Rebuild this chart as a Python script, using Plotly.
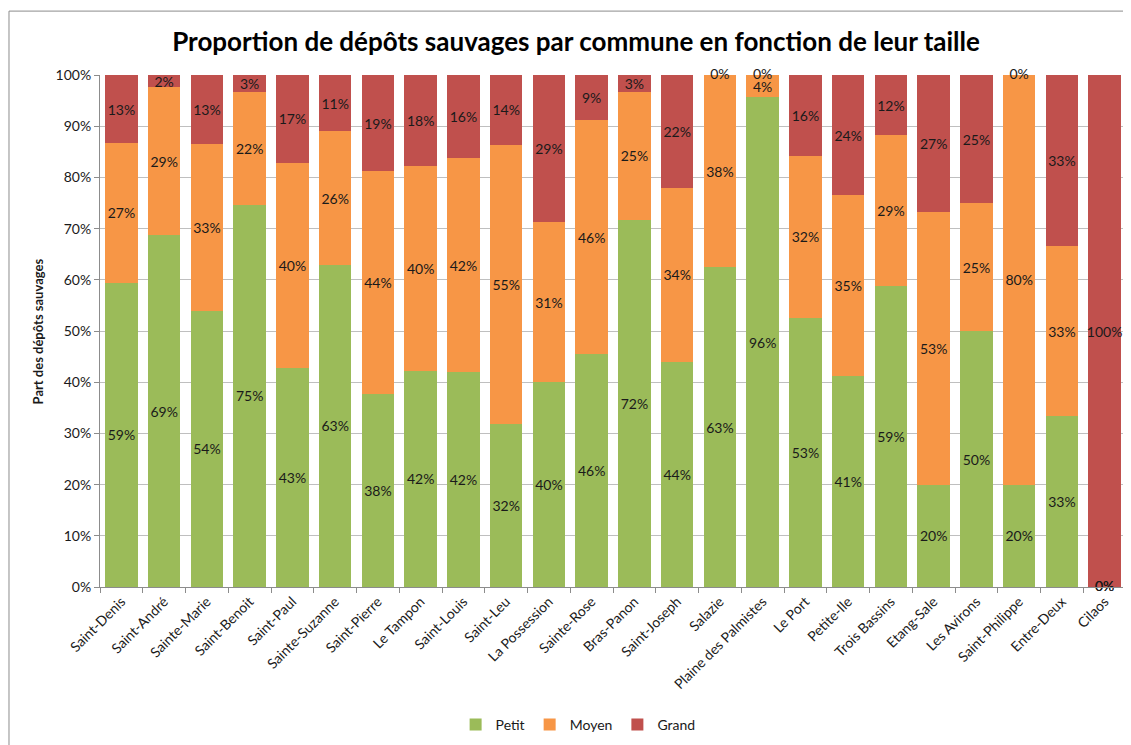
import plotly.graph_objects as go

communes = ["Saint-Denis", "Saint-André", "Sainte-Marie", "Saint-Benoit", "Saint-Paul",
            "Sainte-Suzanne", "Saint-Pierre", "Le Tampon", "Saint-Louis", "Saint-Leu",
            "La Possession", "Sainte-Rose", "Bras-Panon", "Saint-Joseph", "Salazie",
            "Plaine des Palmistes", "Le Port", "Petite-Ile", "Trois Bassins", "Etang-Sale",
            "Les Avirons", "Saint-Philippe", "Entre-Deux", "Cilaos"]

# parts en %
petit = [59.4, 68.7, 54.0, 74.7, 42.7, 62.9, 37.6, 42.2, 41.9, 31.8,
         40.0, 45.5, 71.7, 43.9, 62.5, 95.7, 52.6, 41.2, 58.8, 20.0,
         50.0, 20.0, 33.33, 0.0]
moyen = [27.3, 28.9, 32.6, 21.9, 40.2, 26.1, 43.6, 40.0, 41.9, 54.6,
         31.3, 45.7, 25.0, 34.1, 37.5, 4.3, 31.6, 35.3, 29.4, 53.3,
         25.0, 80.0, 33.33, 0.0]
grand = [13.3, 2.4, 13.4, 3.4, 17.1, 11.0, 18.8, 17.8, 16.2, 13.6,
         28.7, 8.8, 3.3, 22.0, 0.0, 0.0, 15.8, 23.5, 11.8, 26.7,
         25.0, 0.0, 33.34, 100.0]

series = [("Petit", petit, "#9BBB59"), ("Moyen", moyen, "#F79646"), ("Grand", grand, "#C0504D")]

FONT = "Lato, 'Open Sans', sans-serif"
LABEL = dict(color="#1a1a1a", size=14, family=FONT)

fig = go.Figure()
base = [0.0] * len(communes)
zx, zy = [], []
for name, vals, col in series:
    fig.add_trace(go.Bar(
        x=communes, y=vals, name=name,
        marker=dict(color=col, line=dict(width=0)),
        texttemplate="%{y:.0f}%", textposition="inside", textangle=0,
        insidetextanchor="middle", constraintext="none",
        textfont=LABEL, cliponaxis=False,
    ))
    # les segments nuls n'ont pas d'étiquette dans plotly -> on les ajoute
    for c, b, v in zip(communes, base, vals):
        if v == 0:
            zx.append(c)
            zy.append(b)
    base = [b + v for b, v in zip(base, vals)]

fig.add_trace(go.Scatter(x=zx, y=zy, mode="text", text=["0%"] * len(zx),
                         textposition="middle center", textfont=LABEL,
                         showlegend=False, hoverinfo="skip", cliponaxis=False))

# cadre du graphique (style Excel)
fig.add_shape(type="rect", xref="paper", yref="paper",
              x0=-0.0887, x1=1.2, y0=-0.6, y1=1.1248,
              line=dict(color="#8c8c8c", width=1), layer="below")

# titre de l'axe y
fig.add_annotation(text="<b>Part des dépôts sauvages</b>", textangle=-90,
                   xref="paper", yref="paper", x=-0.060, y=0.5,
                   xanchor="center", yanchor="middle", showarrow=False,
                   font=dict(size=13, color="#1a1a1a", family=FONT))

# la page ajoute une marge de 8 px autour de la figure
fig.update_layout(
    barmode="stack", bargap=0.243,
    width=1123, height=737,
    margin=dict(l=92, r=5, t=67, b=157),
    paper_bgcolor="white", plot_bgcolor="white",
    font=dict(family=FONT, size=14, color="#1a1a1a"),
    title=dict(text="<b>Proportion de dépôts sauvages par commune en fonction de leur taille</b>",
               x=0.464, xref="paper", xanchor="center", y=0.954, yanchor="middle",
               font=dict(size=26, color="#000000", family=FONT)),
    legend=dict(orientation="h", x=0.466, xanchor="center", y=-0.267, yanchor="middle",
                font=dict(size=14), traceorder="normal", itemwidth=30),
    uniformtext=dict(mode=False),
)
fig.update_yaxes(range=[0, 100], dtick=10, ticksuffix="%", automargin=False,
                 showgrid=True, gridcolor="#BFBFBF", gridwidth=1,
                 showline=True, linecolor="#8c8c8c", ticks="outside", ticklen=5,
                 tickcolor="#8c8c8c", tickfont=dict(size=14), zeroline=False)
fig.update_xaxes(range=[-0.5, len(communes) - 0.5], autorange=False,
                 showline=True, linecolor="#8c8c8c", ticks="outside", ticklen=5,
                 tickcolor="#8c8c8c", tickson="boundaries", tickangle=-45, automargin=False,
                 tickfont=dict(size=14), showgrid=False)

fig.write_html("out.html")
